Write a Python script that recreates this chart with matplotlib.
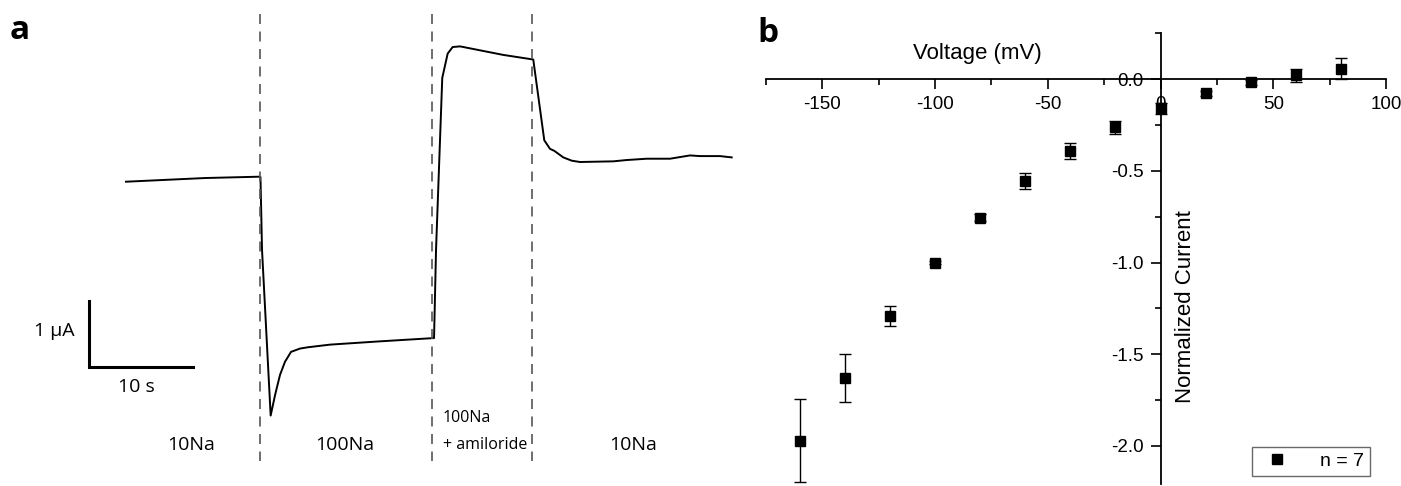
import matplotlib
matplotlib.use("Agg")
from matplotlib import pyplot as plt
from matplotlib.lines import Line2D
from matplotlib.ticker import MultipleLocator, FormatStrFormatter

plt.rcParams['axes.unicode_minus'] = False

# panel a: current trace (time in s, current in uA, arbitrary zero)
trace_t = [0, 7.6, 12.74, 12.93, 13.08, 13.91, 14.33, 14.81, 15.29, 15.87, 16.73, 17.5,
           19.62, 24.42, 29.62, 29.81, 30.41, 30.93, 31.41, 32.12, 34.04, 36.28, 39.16,
           40.22, 40.77, 41.18, 42.05, 42.86, 43.65, 46.86, 48.14, 50.07, 52.31, 54.23,
           55.19, 57.12, 58.24]
trace_i = [0, 0.056, 0.076, 0.072, -1.04, -3.56, -3.25, -2.94, -2.74, -2.59, -2.54, -2.52,
           -2.48, -2.43, -2.38, -1.04, 1.58, 1.95, 2.05, 2.06, 2.0, 1.93, 1.86,
           0.63, 0.50, 0.47, 0.37, 0.32, 0.30, 0.31, 0.33, 0.35, 0.35, 0.40,
           0.39, 0.39, 0.37]
switch_t = [12.88, 29.42, 39.04]
solutions = ['10Na', '100Na', '100Na', '+ amiloride', '10Na']

# panel b: I-V curve
voltage = [-160, -140, -120, -100, -80, -60, -40, -20, 0, 20, 40, 60, 80]
current = [-1.972, -1.629, -1.292, -1.0, -0.756, -0.556, -0.393, -0.263, -0.16, -0.078, -0.018, 0.02, 0.058]
current_err = [0.225, 0.13, 0.053, 0.01, 0.02, 0.042, 0.043, 0.035, 0.03, 0.012, 0.015, 0.035, 0.055]

W, H = 1401, 486
fig = plt.figure(figsize=(W / 100, H / 100), dpi=100)

# ---- panel a ----
ax = fig.add_axes([0, 0, 750 / W, 1])
ax.set_xlim(-12.115, 60.0)
ax.set_ylim(-4.632, 2.766)
ax.axis('off')

ax.plot(trace_t, trace_i, color='black', lw=1.4)
for t in switch_t:
    ax.plot([t, t], [2.553, -4.251], color='#555555', lw=1.2, dashes=(6, 4.5))

# scale bar: 1 uA, 10 s
ax.plot([-3.56, -3.56, 6.44], [-1.816, -2.816, -2.816], color='black', lw=2.2,
        solid_joinstyle='miter')
fam_a = ['Open Sans', 'DejaVu Sans']
ax.text(-6.9, -2.28, '1 µA', ha='center', va='center', fontsize=14, family=fam_a)
ax.text(0.96, -3.12, '10 s', ha='center', va='center', fontsize=14, family=fam_a)

ax.text(6.25, -4.01, solutions[0], ha='center', va='center', fontsize=14, family=fam_a)
ax.text(21.06, -4.01, solutions[1], ha='center', va='center', fontsize=14, family=fam_a)
ax.text(30.48, -3.60, solutions[2], ha='left', va='center', fontsize=11.5, family=fam_a)
ax.text(30.48, -4.01, solutions[3], ha='left', va='center', fontsize=11.5, family=fam_a)
ax.text(48.75, -4.01, solutions[4], ha='center', va='center', fontsize=14, family=fam_a)

fig.text(10 / W, 1 - 39 / H, 'a', fontsize=24, fontweight='bold', family=fam_a)
fig.text(757 / W, 1 - 42 / H, 'b', fontsize=24, fontweight='bold', family=fam_a)

# ---- panel b ----
bx = fig.add_axes([766 / W, 2 / H, 620 / W, 450.7 / H])
bx.set_xlim(-175, 100)
bx.set_ylim(-2.208, 0.25)

bx.errorbar(voltage, current, yerr=current_err, fmt='s', color='black', ms=7.5,
            capsize=4, elinewidth=1, capthick=1)

for side in ['top', 'right']:
    bx.spines[side].set_visible(False)
bx.spines['left'].set_position(('data', 0))
bx.spines['bottom'].set_position(('data', 0))
bx.spines['left'].set_linewidth(1.3)
bx.spines['bottom'].set_linewidth(1.3)

bx.xaxis.set_major_locator(MultipleLocator(50))
bx.xaxis.set_minor_locator(MultipleLocator(25))
bx.yaxis.set_major_locator(MultipleLocator(0.5))
bx.yaxis.set_minor_locator(MultipleLocator(0.25))
bx.yaxis.set_major_formatter(FormatStrFormatter('%.1f'))
bx.tick_params(axis='both', which='major', direction='out', length=7, width=1.2,
               labelsize=13.5, pad=5)
bx.tick_params(axis='both', which='minor', direction='out', length=4, width=1.2)
for lab in bx.get_xticklabels() + bx.get_yticklabels():
    lab.set_family(['Liberation Sans', 'DejaVu Sans'])

fam_b = ['Liberation Sans', 'DejaVu Sans']
bx.text(-81.4, 0.142, 'Voltage (mV)', ha='center', va='center', fontsize=16, family=fam_b)
bx.text(11.1, -1.238, 'Normalized Current', ha='center', va='center', rotation=90,
        fontsize=16, family=fam_b)

proxy = Line2D([], [], marker='s', ls='', color='black', ms=7.5)
leg = bx.legend([proxy], ['n = 7'], loc='lower right', bbox_to_anchor=(0.974, 0.018),
                frameon=True, fancybox=False, prop={'family': 'Liberation Sans', 'size': 14},
                borderpad=0.3, handletextpad=1.2, borderaxespad=0)
leg.get_frame().set_edgecolor('#444444')
leg.get_frame().set_linewidth(1)

fig.savefig('out.png', dpi=100)
